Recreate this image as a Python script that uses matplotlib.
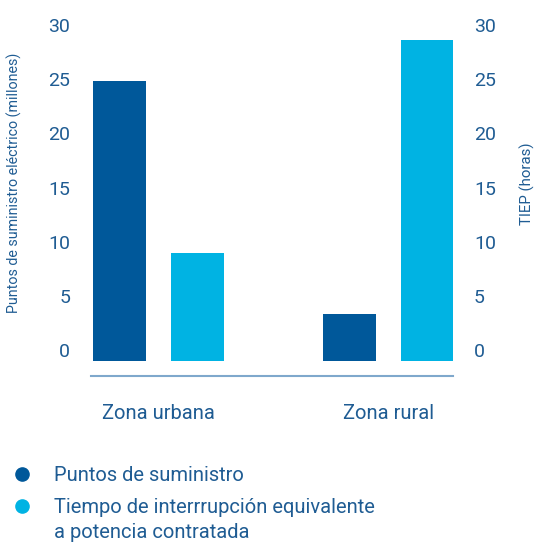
import numpy as np
import matplotlib.pyplot as plt
from matplotlib.lines import Line2D

plt.rcParams['font.family'] = ['Roboto', 'DejaVu Sans']

zonas = ["Zona urbana", "Zona rural"]
puntos = [24.8, 3.3]     # millones
tiep = [9.0, 28.6]       # horas
series = [["Puntos de suministro"],
          ["Tiempo de interrrupción equivalente", "a potencia contratada"]]
yticks = [0, 5, 10, 15, 20, 25, 30]

dark = "#00589a"
light = "#00b3e3"
txt = "#1f5c93"
base = -1.0

W, H = 535, 542
fig = plt.figure(figsize=(W / 100, H / 100), dpi=100)
ax = fig.add_axes([91 / W, 181 / H, 362 / W, 336 / H])
ax2 = ax.twinx()

x = np.arange(len(zonas))
w = 0.229
off = 0.17
ax.bar(x - off, np.array(puntos) - base, w, bottom=base, color=dark)
ax2.bar(x + off, np.array(tiep) - base, w, bottom=base, color=light)

for a in (ax, ax2):
    a.set_ylim(base, 30)
    a.set_xlim(-0.293, 1.28)
    a.set_yticks(yticks)
    for s in a.spines.values():
        s.set_visible(False)
    a.tick_params(axis='y', length=0, pad=15, labelsize=14, labelcolor=txt)

ax.spines['bottom'].set_visible(True)
ax.spines['bottom'].set_position(('outward', 10.8))
ax.spines['bottom'].set_color("#7fa8cc")
ax.spines['bottom'].set_linewidth(1.5)
ax.set_xticks(x)
ax.set_xticklabels(zonas)
ax.tick_params(axis='x', length=0, pad=20, labelsize=14.5, labelcolor=txt)

# axis titles
fig.text(14 / W, 1 - 183 / H, "Puntos de suministro eléctrico (millones)",
         rotation=90, ha='center', va='center', fontsize=10.3, color=txt)
fig.text(527 / W, 1 - 183.5 / H, "TIEP (horas)",
         rotation=90, ha='center', va='center', fontsize=10.8, color=txt)

# legend drawn by hand so the dot sits on the first line
baselines = [[481], [513, 538]]
for lines, bl, c in zip(series, baselines, [dark, light]):
    fig.add_artist(Line2D([22 / W], [1 - (bl[0] - 7) / H], marker='o', markersize=9.5,
                          color=c, linestyle='none', transform=fig.transFigure))
    for line, b in zip(lines, bl):
        fig.text(54 / W, 1 - b / H, line, fontsize=14.5, color=txt,
                 ha='left', va='baseline')

plt.savefig("out.png", dpi=100)
